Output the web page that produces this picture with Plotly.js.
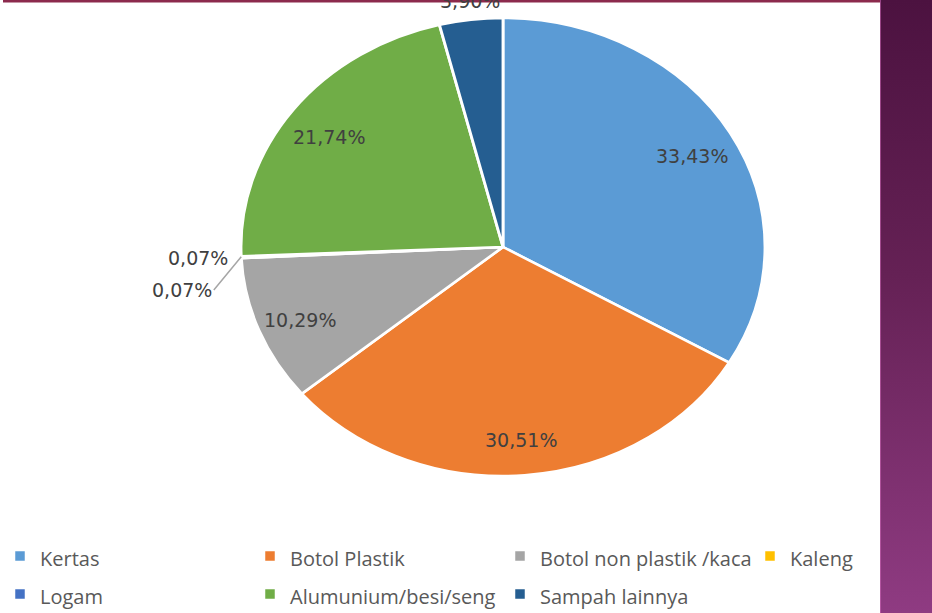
<!DOCTYPE html>
<html><head><meta charset="utf-8">
<script src="https://cdn.plot.ly/plotly-3.0.1.min.js"></script>
<style>
html,body{margin:0;padding:0;width:932px;height:613px;overflow:hidden;background:#fff;}
#chart{position:absolute;left:0;top:0;width:1010px;height:613px;}
#strip{position:absolute;left:880px;top:0;width:52px;height:613px;box-sizing:border-box;
  background:linear-gradient(to bottom,#4c1240 0%,#652155 45%,#8f3b82 100%);
  border-left:1px solid rgba(214,110,190,0.55);}
</style></head><body>
<div id="chart"></div><div id="strip"></div>
<script>
// ---- data ----
const categories = ['Kertas', 'Botol Plastik', 'Botol non plastik /kaca', 'Kaleng', 'Logam', 'Alumunium/besi/seng', 'Sampah lainnya'];
const percentages = [33.43, 30.51, 10.29, 0.07, 0.07, 21.74, 3.90];
const sliceColors = ['#5B9BD5', '#ED7D31', '#A5A5A5', '#FFC000', '#4472C4', '#70AD47', '#255E91'];
const labelPlacement = ['inside', 'inside', 'inside', 'outside', 'outside', 'inside', 'outside'];

// ---- geometry / style ----
const W = 1010, H = 613;
const CX = 503, CY = 247, R = 229, SX = 262 / 229, K = 0.83, PAD_X = 10, PAD_Y = 6;
const LABEL_FONT = { family: 'DejaVu Sans, sans-serif', size: 19, color: '#404040' };

const legendLabels = categories.map(c => '<span style="font-size:20px">' + c + '</span>');

const trace = {
  type: 'pie',
  labels: legendLabels,
  values: percentages,
  sort: false,
  direction: 'clockwise',
  rotation: 0,
  marker: { colors: sliceColors, line: { color: '#ffffff', width: 2.5 } },
  textinfo: 'none',
  hoverinfo: 'none',
  domain: { x: [(CX - R) / W, (CX + R) / W], y: [(H - CY - R) / H, (H - CY + R) / H] }
};

// percentage labels positioned from each slice's mid-angle
const total = percentages.reduce((a, b) => a + b, 0);
const annotations = [];
const placedOutside = [];
let cum = 0;
percentages.forEach((v, i) => {
  const th = 2 * Math.PI * (cum + v / 2) / total;
  cum += v;
  const s = Math.sin(th), c = Math.cos(th);
  const text = v.toFixed(2).replace('.', ',') + '%';
  if (labelPlacement[i] === 'inside') {
    const px = CX + SX * R * K * s, py = CY - R * K * c;
    annotations.push({ xref: 'paper', yref: 'paper', x: px / W, y: (H - py) / H, text: text,
      showarrow: false, xanchor: 'center', yanchor: 'middle', yshift: -4, font: LABEL_FONT });
    return;
  }
  const ex = CX + SX * R * s, ey = CY - R * c;
  let px = CX + SX * (R + PAD_X) * s, py = CY - (R + PAD_Y) * c;
  const xa = Math.abs(s) < 0.3 ? 'center' : (s < 0 ? 'right' : 'left');
  const ya = Math.abs(c) < 0.3 ? 'middle' : (c > 0 ? 'bottom' : 'top');
  const clash = placedOutside.find(p => p.xa === xa && Math.abs(p.py - py) < 24);
  if (clash) {
    py = clash.py + 32; px = px - 16;
    annotations.push({ xref: 'paper', yref: 'paper', x: ex / W, y: (H - ey) / H,
      ax: px - ex, ay: py - ey, text: text, showarrow: true, arrowhead: 0,
      arrowwidth: 1.5, arrowcolor: '#A6A6A6', standoff: 0,
      xanchor: xa, yanchor: 'middle', font: LABEL_FONT });
  } else {
    annotations.push({ xref: 'paper', yref: 'paper', x: px / W, y: (H - py) / H, text: text,
      showarrow: false, xanchor: xa, yanchor: ya, font: LABEL_FONT });
  }
  placedOutside.push({ xa: xa, py: py });
});

const layout = {
  width: W, height: H,
  margin: { l: 0, r: 0, t: 0, b: 0, autoexpand: false },
  paper_bgcolor: '#ffffff',
  showlegend: true,
  legend: {
    orientation: 'h', x: 0, xanchor: 'left', y: 1 - 532 / H, yanchor: 'top',
    entrywidth: 205, entrywidthmode: 'pixels',
    font: { family: 'Open Sans, sans-serif', size: 26.9, color: '#595959' },
    bgcolor: 'rgba(0,0,0,0)', borderwidth: 0
  },
  annotations: annotations,
  shapes: [{
    type: 'rect', xref: 'paper', yref: 'paper', layer: 'above',
    x0: 3 / W, x1: 880 / W, y0: 1 - 2.5 / H, y1: 1,
    fillcolor: '#8C2A4D', line: { width: 0 }
  }]
};

function stretchPie() {
  const g = document.querySelector('#chart .pielayer');
  if (g) g.setAttribute('transform', 'matrix(' + SX + ',0,0,1,' + (CX * (1 - SX)) + ',0)');
}

Plotly.newPlot('chart', [trace], layout, { staticPlot: true, displayModeBar: false }).then(gd => {
  stretchPie();
  gd.on('plotly_afterplot', stretchPie);
});
</script>
</body></html>
